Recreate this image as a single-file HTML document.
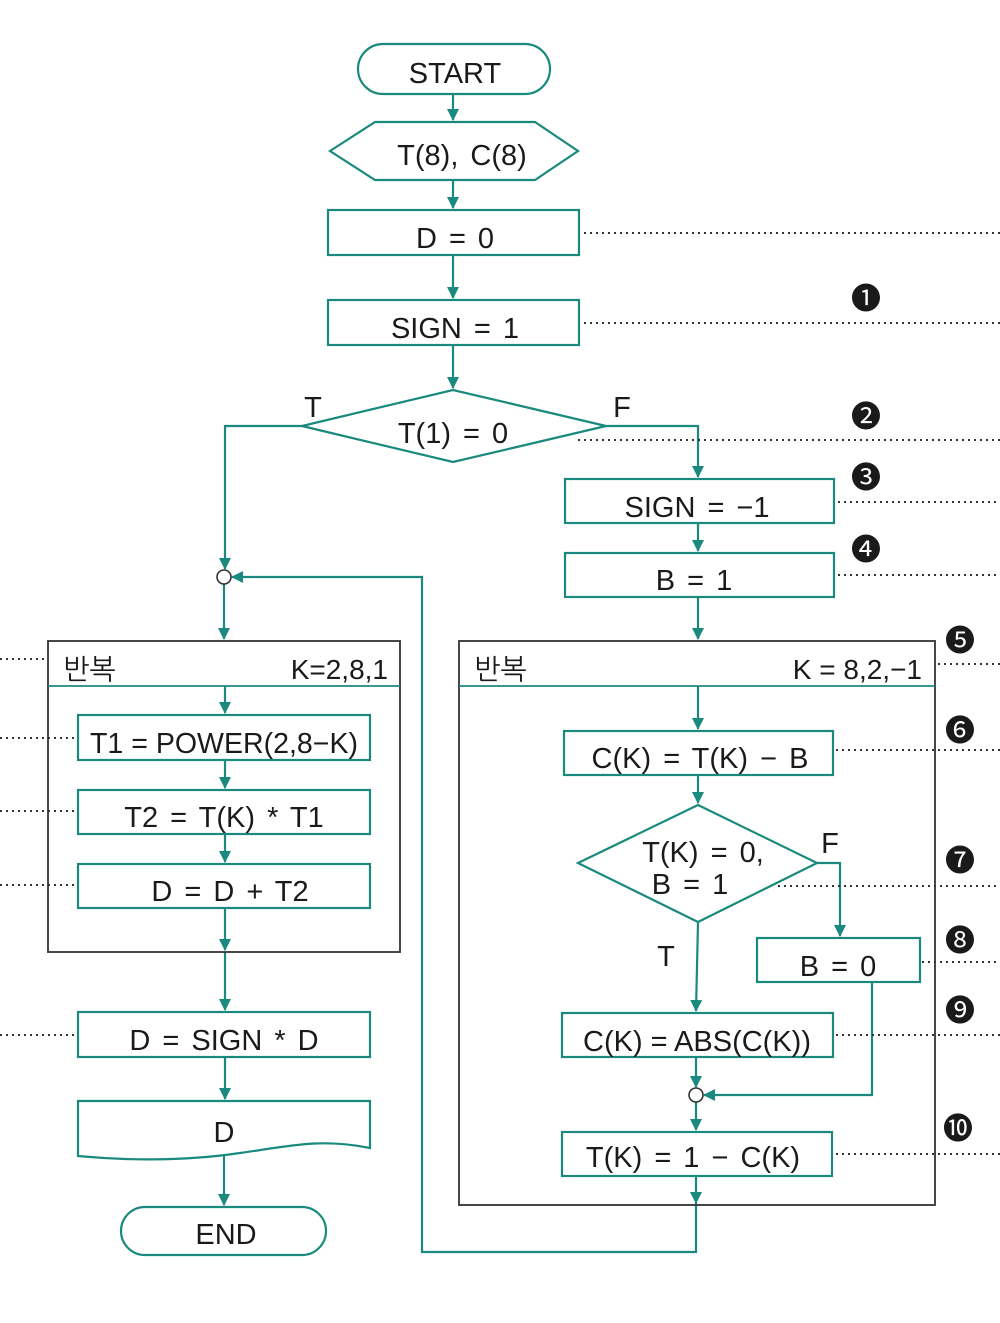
<!DOCTYPE html>
<html><head><meta charset="utf-8">
<style>
html,body{margin:0;padding:0;background:#fff;}
svg{display:block;}
text{font-family:"Liberation Sans","NanumGothic","Noto Sans CJK KR",sans-serif;fill:#1a1a1a;}
</style></head>
<body>
<svg width="1000" height="1323" viewBox="0 0 1000 1323" xmlns="http://www.w3.org/2000/svg">
<defs>
<marker id="a" markerWidth="12" markerHeight="12" refX="11" refY="6" orient="auto" markerUnits="userSpaceOnUse">
<path d="M0,0 L12,6 L0,12 Z" fill="#1a8a7e"/>
</marker>
</defs>
<g fill="none" stroke="#1a8a7e" stroke-width="2.2">
<rect x="358" y="44" width="192" height="50" rx="25"/>
<polygon points="330,151 375,122 535,122 578,151 535,180 375,180"/>
<rect x="328" y="210" width="251" height="45"/>
<rect x="328" y="300" width="251" height="45"/>
<polygon points="302,426 453,390 606,426 453,462"/>
<rect x="565" y="479" width="269" height="44"/>
<rect x="565" y="553" width="269" height="44"/>
<rect x="564" y="731" width="269" height="44"/>
<polygon points="578,863 698,805 817,863 698,922"/>
<rect x="757" y="938" width="163" height="44"/>
<rect x="562" y="1013" width="271" height="44"/>
<rect x="562" y="1132" width="270" height="44"/>
<rect x="78" y="715" width="292" height="45"/>
<rect x="78" y="790" width="292" height="44"/>
<rect x="78" y="864" width="292" height="44"/>
<rect x="78" y="1012" width="292" height="45"/>
<path d="M78,1101 H370 V1148 C320,1138 290,1146 240,1153 C180,1162 120,1160 78,1156 Z"/>
<rect x="121" y="1207" width="205" height="48" rx="24"/>
<path d="M453,94 V120" marker-end="url(#a)"/>
<path d="M453,180 V208" marker-end="url(#a)"/>
<path d="M453,255 V298" marker-end="url(#a)"/>
<path d="M453,345 V388" marker-end="url(#a)"/>
<path d="M606,426 H698 V477" marker-end="url(#a)"/>
<path d="M698,523 V551" marker-end="url(#a)"/>
<path d="M698,597 V639" marker-end="url(#a)"/>
<path d="M698,686 V729" marker-end="url(#a)"/>
<path d="M698,775 V803" marker-end="url(#a)"/>
<path d="M817,863 H840 V936" marker-end="url(#a)"/>
<path d="M698,922 L696,1011" marker-end="url(#a)"/>
<path d="M696,1057 V1087" marker-end="url(#a)"/>
<path d="M872,982 V1095 H704" marker-end="url(#a)"/>
<path d="M696,1102 V1130" marker-end="url(#a)"/>
<path d="M696,1176 V1203" marker-end="url(#a)"/>
<path d="M696,1203 V1252 H422 V577 H232" marker-end="url(#a)"/>
<path d="M302,426 H225 V569" marker-end="url(#a)"/>
<path d="M224,584 V639" marker-end="url(#a)"/>
<path d="M225,686 V713" marker-end="url(#a)"/>
<path d="M225,760 V788" marker-end="url(#a)"/>
<path d="M225,834 V862" marker-end="url(#a)"/>
<path d="M225,908 V950" marker-end="url(#a)"/>
<path d="M225,952 V1010" marker-end="url(#a)"/>
<path d="M225,1057 V1099" marker-end="url(#a)"/>
<path d="M224,1156 V1205" marker-end="url(#a)"/>
</g>
<circle cx="224" cy="577" r="7" fill="#fff" stroke="#333" stroke-width="1.6"/>
<circle cx="696" cy="1095" r="7" fill="#fff" stroke="#333" stroke-width="1.6"/>
<g fill="none" stroke="#333" stroke-width="1.8">
<rect x="48" y="641" width="352" height="311"/>
<line x1="48" y1="686" x2="400" y2="686" stroke="#1a8a7e"/>
<rect x="459" y="641" width="476" height="564"/>
<line x1="459" y1="686" x2="935" y2="686" stroke="#1a8a7e"/>
</g>
<g stroke="#333" stroke-width="2" stroke-dasharray="2,4">
<line x1="584" y1="233" x2="1000" y2="233"/>
<line x1="584" y1="323" x2="1000" y2="323"/>
<line x1="578" y1="440" x2="1000" y2="440"/>
<line x1="838" y1="502" x2="1000" y2="502"/>
<line x1="838" y1="575" x2="1000" y2="575"/>
<line x1="938" y1="664" x2="1000" y2="664"/>
<line x1="836" y1="750" x2="1000" y2="750"/>
<line x1="778" y1="886" x2="1000" y2="886"/>
<line x1="922" y1="962" x2="1000" y2="962"/>
<line x1="836" y1="1035" x2="1000" y2="1035"/>
<line x1="836" y1="1154" x2="1000" y2="1154"/>
<line x1="0" y1="659" x2="48" y2="659"/>
<line x1="0" y1="738" x2="76" y2="738"/>
<line x1="0" y1="811" x2="76" y2="811"/>
<line x1="0" y1="885" x2="76" y2="885"/>
<line x1="0" y1="1035" x2="76" y2="1035"/>
</g>
<g font-size="29" text-anchor="middle" word-spacing="4">
<text x="455" y="83">START</text>
<text x="462" y="165">T(8),  C(8)</text>
<text x="455" y="248">D = 0</text>
<text x="455" y="338">SIGN = 1</text>
<text x="453" y="443">T(1) = 0</text>
<text x="313" y="417">T</text>
<text x="622" y="417">F</text>
<text x="697" y="517">SIGN = −1</text>
<text x="694" y="590">B = 1</text>
<text x="700" y="768">C(K) = T(K) − B</text>
<text x="703" y="862">T(K) = 0,</text>
<text x="690" y="894">B = 1</text>
<text x="830" y="853">F</text>
<text x="666" y="966">T</text>
<text x="838" y="976">B = 0</text>
<text x="697" y="1051" word-spacing="0">C(K) = ABS(C(K))</text>
<text x="693" y="1167">T(K) = 1 − C(K)</text>
<text x="224" y="753" word-spacing="0" textLength="268" lengthAdjust="spacingAndGlyphs">T1 = POWER(2,8−K)</text>
<text x="224" y="827">T2 = T(K) * T1</text>
<text x="230" y="901">D = D + T2</text>
<text x="224" y="1050">D = SIGN * D</text>
<text x="224" y="1142">D</text>
<text x="226" y="1244">END</text>
</g>
<g font-size="28">
<text x="63" y="679">반복</text>
<text x="388" y="679" text-anchor="end">K=2,8,1</text>
<text x="474" y="679">반복</text>
<text x="922" y="679" text-anchor="end">K = 8,2,−1</text>
</g>
<g font-size="30" text-anchor="middle" style="font-family:'DejaVu Sans',sans-serif">
<text x="866" y="309">❶</text>
<text x="866" y="427">❷</text>
<text x="866" y="488">❸</text>
<text x="866" y="560">❹</text>
<text x="960" y="651">❺</text>
<text x="960" y="741">❻</text>
<text x="960" y="871">❼</text>
<text x="960" y="951">❽</text>
<text x="960" y="1021">❾</text>
<text x="958" y="1139">❿</text>
</g>
</svg>
</body></html>
